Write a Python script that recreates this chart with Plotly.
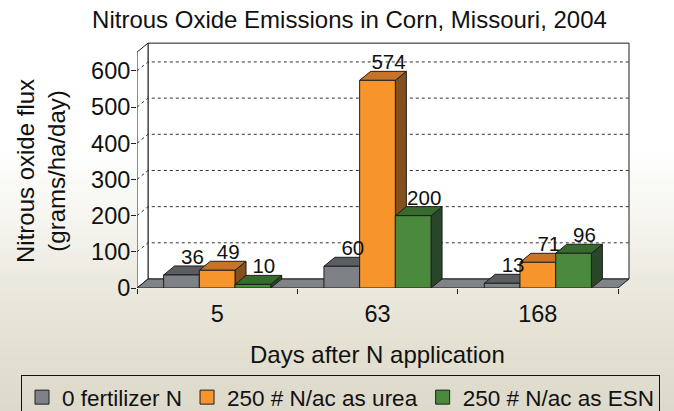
import plotly.graph_objects as go

# ---------------- data ----------------
categories = ["5", "63", "168"]
series_names = ["0 fertilizer N", "250 # N/ac as urea", "250 # N/ac as ESN"]
zero_fert = [36, 60, 13]
urea = [49, 574, 71]
esn = [10, 200, 96]
y_ticks = [0, 100, 200, 300, 400, 500, 600]
title_text = "Nitrous Oxide Emissions in Corn, Missouri, 2004"
x_title = "Days after N application"
y_title = "Nitrous oxide flux<br>(grams/ha/day)"

series_values = [zero_fert, urea, esn]
# front / top / side colours for each series
face_colors = [
    ("#7e8185", "#5a5d61", "#45484b"),
    ("#f7952c", "#c8732a", "#84511e"),
    ("#4b893c", "#376a2d", "#294628"),
]

# ---------------- geometry ----------------
W, H = 674, 411
ML, MB = 137, 123
XS = 481 / 3.0              # px per category
PW = W - ML                 # plot area runs to the right edge
XR = [-0.5, -0.5 + PW / XS]
YR = [0, 680]
PH = 246
MR = 0
MT = H - MB - PH
xs = PW / (XR[1] - XR[0])   # px per x unit
ys = PH / (YR[1] - YR[0])   # px per y unit
DX = 11 / xs                # depth offset (x)
DY = 9 / ys                 # depth offset (y)
WALL_TOP = 652
BW = 35.7 / xs              # bar width
LINE = "#1e1e1e"
FONT = "Arial, Liberation Sans, sans-serif"
TXT = "#111111"


def px_x(X):
    return (X - ML) / PW


def px_y(Y):
    return (H - MB - Y) / PH


fig = go.Figure()


def poly_trace(polys, fill, line=LINE, width=1):
    xx, yy = [], []
    for p in polys:
        for (a, b) in p + [p[0]]:
            xx.append(a)
            yy.append(b)
        xx.append(None)
        yy.append(None)
    return go.Scatter(x=xx, y=yy, mode="lines", fill="toself", fillcolor=fill,
                      line=dict(color=line, width=width), showlegend=False,
                      hoverinfo="skip")


x0a, x1a = -0.5, len(categories) - 0.5
# walls
fig.add_trace(poly_trace([[(x0a + DX, DY), (x1a + DX, DY), (x1a + DX, WALL_TOP + DY),
                           (x0a + DX, WALL_TOP + DY)]], "#ffffff"))
fig.add_trace(poly_trace([[(x0a, 0), (x0a + DX, DY), (x0a + DX, WALL_TOP + DY),
                           (x0a, WALL_TOP)]], "#ffffff"))
# grid lines on the walls
gx, gy = [], []
for v in y_ticks[1:]:
    gx += [x0a, x0a + DX, x1a + DX, None]
    gy += [v, v + DY, v + DY, None]
fig.add_trace(go.Scatter(x=gx, y=gy, mode="lines", line=dict(color="#333333", width=1, dash="dot"),
                         showlegend=False, hoverinfo="skip"))
# floor
fig.add_trace(poly_trace([[(x0a, 0), (x1a, 0), (x1a + DX, DY), (x0a + DX, DY)]], "#7f8286"))

# bars
for si, vals in enumerate(series_values):
    fronts, tops, sides = [], [], []
    for ci, v in enumerate(vals):
        c = ci + (si - 1) * BW
        a, b = c - BW / 2, c + BW / 2
        fronts.append([(a, 0), (b, 0), (b, v), (a, v)])
        tops.append([(a, v), (b, v), (b + DX, v + DY), (a + DX, v + DY)])
        sides.append([(b, 0), (b + DX, DY), (b + DX, v + DY), (b, v)])
    fc, tc, sc = face_colors[si]
    fig.add_trace(poly_trace(sides, sc))
    fig.add_trace(poly_trace(tops, tc))
    fig.add_trace(poly_trace(fronts, fc))

# value labels
for si, vals in enumerate(series_values):
    fig.add_trace(go.Scatter(
        x=[ci + (si - 1) * BW + DX for ci in range(len(vals))],
        y=[v + DY - 3 / ys for v in vals],
        mode="text", text=[str(v) for v in vals], textposition="top center",
        textfont=dict(size=20.5, color=TXT, family=FONT),
        cliponaxis=False, showlegend=False, hoverinfo="skip"))

# legend entries
for si, name in enumerate(series_names):
    fig.add_trace(go.Scatter(x=[None], y=[None], mode="markers", name=name,
                             marker=dict(symbol="square", size=14, color=face_colors[si][0],
                                         line=dict(color=LINE, width=1))))

# background (faded field)
shapes = []
bg_stops = [(0, (255, 255, 255)), (150, (255, 255, 255)), (220, (246, 245, 240)),
            (280, (236, 234, 224)), (340, (229, 226, 212)), (411, (221, 218, 204))]
N = 40
for i in range(N):
    y0 = 130 + (411 - 130) * i / N
    y1 = 130 + (411 - 130) * (i + 1) / N
    ym = (y0 + y1) / 2
    for k in range(len(bg_stops) - 1):
        if bg_stops[k][0] <= ym <= bg_stops[k + 1][0]:
            t = (ym - bg_stops[k][0]) / (bg_stops[k + 1][0] - bg_stops[k][0])
            col = tuple(int(bg_stops[k][1][j] + t * (bg_stops[k + 1][1][j] - bg_stops[k][1][j])) for j in range(3))
            break
    shapes.append(dict(type="rect", xref="paper", yref="paper", layer="below",
                       x0=px_x(0), x1=px_x(W), y0=px_y(y1 + 0.5), y1=px_y(y0),
                       fillcolor="rgb(%d,%d,%d)" % col, line=dict(width=0)))

fig.update_layout(
    width=W, height=H,
    margin=dict(l=ML, r=MR, t=MT, b=MB, pad=0, autoexpand=False),
    paper_bgcolor="#ffffff", plot_bgcolor="rgba(0,0,0,0)",
    font=dict(family=FONT, size=23, color=TXT),
    title=dict(text=title_text, xref="container", yref="container",
               x=349.5 / W, y=1 - 20 / H, xanchor="center", yanchor="middle",
               font=dict(size=24, family=FONT, color=TXT)),
    xaxis=dict(range=XR, tickmode="array", tickvals=list(range(len(categories))),
               ticktext=categories, ticks="", showgrid=False, zeroline=False,
               showline=False, tickfont=dict(size=23.5), ticklabelstandoff=9,
               minor=dict(tickmode="array", tickvals=[i - 0.5 for i in range(len(categories) + 1)],
                          ticks="outside", ticklen=5, tickcolor=LINE, showgrid=False),
               fixedrange=True),
    yaxis=dict(range=YR, tickmode="array", tickvals=y_ticks, ticks="outside", ticklen=5,
               tickcolor=LINE, showgrid=False, zeroline=False, showline=False,
               tickfont=dict(size=23.5), ticklabelstandoff=-4, fixedrange=True),
    showlegend=True,
    legend=dict(orientation="h", x=px_x(21), xanchor="left", y=px_y(375), yanchor="top",
                bordercolor="#111111", borderwidth=1, bgcolor="rgba(0,0,0,0)",
                font=dict(size=22.5, family=FONT, color=TXT), traceorder="normal"),
    shapes=shapes,
    annotations=[
        dict(text=y_title, xref="paper", yref="paper", x=px_x(41), y=px_y(171),
             xanchor="center", yanchor="middle", textangle=-90, showarrow=False,
             font=dict(size=24, family=FONT, color=TXT)),
        dict(text=x_title, xref="paper", yref="paper", x=px_x(377), y=px_y(354),
             xanchor="center", yanchor="middle", showarrow=False,
             font=dict(size=24, family=FONT, color=TXT)),
    ],
    hovermode=False,
)

fig.write_html("out.html", config={"displayModeBar": False, "staticPlot": False},
               post_script="document.body.style.margin='0px';document.body.style.overflow='hidden';")
